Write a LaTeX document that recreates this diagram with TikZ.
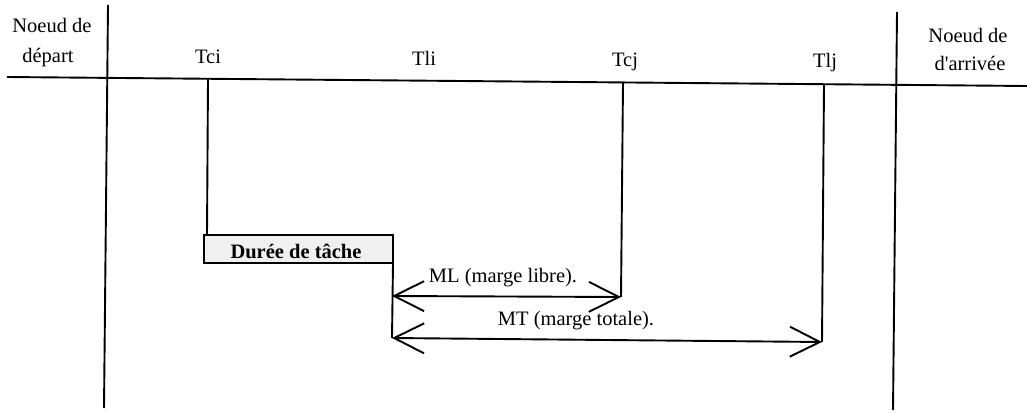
\documentclass[tikz,border=0pt]{standalone}
\usepackage{fontspec}
\setmainfont{Liberation Serif}
\usetikzlibrary{arrows.meta}
\begin{document}
\begin{tikzpicture}[x=1pt,y=-1pt,
  ln/.style={line width=1.9pt},
  lbl/.style={font=\fontsize{20.5}{24}\selectfont, inner sep=0pt, anchor=base},
  barb/.tip={Straight Barb[length=30pt,width=30pt,line width=1.9pt]},
  dim/.style={ln, barb-barb}]
\useasboundingbox (0,0) rectangle (1027,414);
% frame lines
\coordinate (hl) at (7,77);
\coordinate (hr) at (1027,86);
\coordinate (vlt) at (108,5);
\coordinate (vlb) at (104,408);
\coordinate (vrt) at (897,12);
\coordinate (vrb) at (893,410);
\draw[ln] (hl) -- (hr);
\draw[ln] (vlt) -- (vlb);
\draw[ln] (vrt) -- (vrb);
% headers
\node[lbl] (dep1) at (52,33) {Noeud de};
\node[lbl] (dep2) at (48,63) {départ};
\node[lbl] (arr1) at (968,43) {Noeud de};
\node[lbl] (arr2) at (970,71) {d\textquotesingle arrivée};
\node[lbl] (tci) at (208,64) {Tci};
\node[lbl] (tli) at (424,66) {Tli};
\node[lbl] (tcj) at (625,67) {Tcj};
\node[lbl] (tlj) at (825,68) {Tlj};
% task box
\draw[ln, fill=gray!12] (204,235) rectangle (393,263);
\node[lbl, font=\fontsize{20.5}{24}\selectfont\bfseries] (box) at (296,258) {Durée de tâche};
% coordinates
\coordinate (ci0) at (208,79);
\coordinate (ci1) at (207,235);
\coordinate (cj0) at (623,83);
\coordinate (cj1) at (621,297);
\coordinate (lj0) at (824,84);
\coordinate (lj1) at (822,342);
\coordinate (bx) at (393,263);
\coordinate (mlL) at (392,296);
\coordinate (mtL) at (392,338);
\draw[ln] (ci0) -- (ci1);
\draw[ln] (cj0) -- (cj1);
\draw[ln] (lj0) -- (lj1);
\draw[ln] (bx) -- (mtL);
% dimension arrows
\draw[dim] (mlL) -- (cj1);
\draw[dim] (mtL) -- (lj1);
\node[lbl] (ml) at (503,282) {ML (marge libre).};
\node[lbl] (mt) at (576,325) {MT (marge totale).};
\end{tikzpicture}
\end{document}
